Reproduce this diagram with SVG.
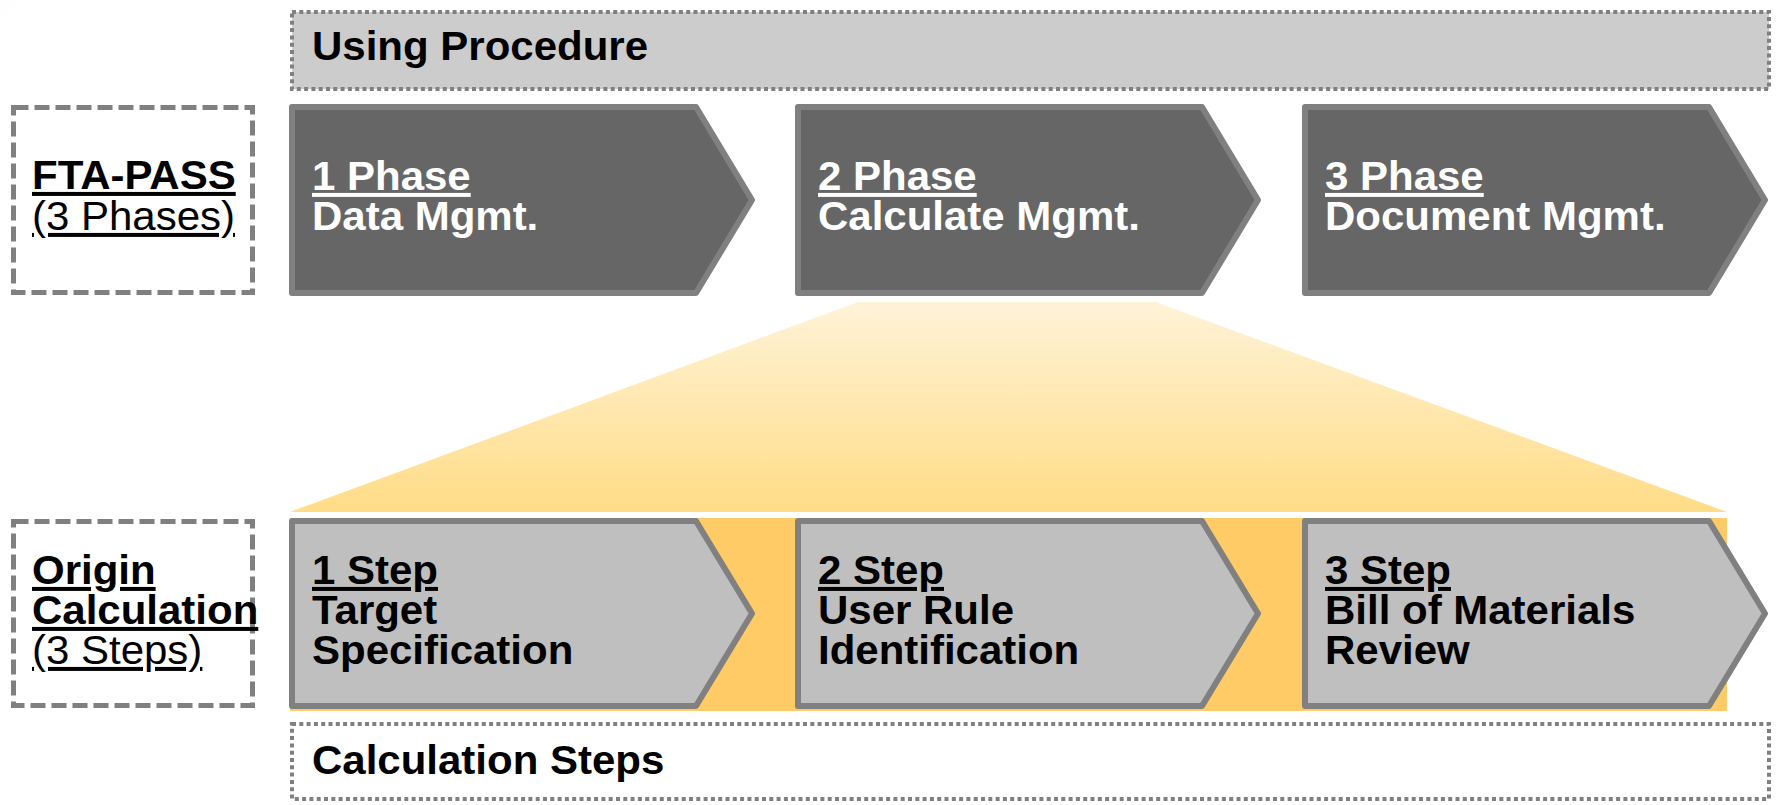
<svg xmlns="http://www.w3.org/2000/svg" width="1777" height="805" viewBox="0 0 1777 805">
<defs>
<linearGradient id="funnel" x1="0" y1="0" x2="0" y2="1">
<stop offset="0" stop-color="#fff3d8"/>
<stop offset="1" stop-color="#ffdc86"/>
</linearGradient>
<radialGradient id="glow" cx="0" cy="0" r="1">
<stop offset="0" stop-color="#e6ebfa"/>
<stop offset="1" stop-color="#ffffff" stop-opacity="0"/>
</radialGradient>
<style>
.t{font-family:"Liberation Sans",Arial,sans-serif;font-size:40px}
.b{font-weight:bold}
.u{text-decoration:underline}
.w{fill:#ffffff}
.k{fill:#000000}
.phase{fill:#666666;stroke:#808080;stroke-width:6;stroke-linejoin:round}
.step{fill:#bfbfbf;stroke:#808080;stroke-width:6;stroke-linejoin:round}
.dash{fill:#ffffff;stroke:#808080;stroke-width:5;stroke-dasharray:15 6}
.dot{stroke:#808080;stroke-width:4;stroke-dasharray:4 3.3}
</style>
</defs>
<rect width="1777" height="805" fill="#ffffff"/>
<ellipse cx="0" cy="0" rx="45" ry="75" fill="url(#glow)"/>

<g id="connectors">
<polygon points="858,302 1156,302 1727,512 290,512" fill="url(#funnel)"/>
<rect x="290" y="518" width="1437" height="193" fill="#fecb66"/>
</g>

<g id="using-procedure">
<rect class="dot" x="292" y="12" width="1477" height="77" fill="#cccccc"/>
<text class="t b k" transform="translate(312,60) scale(1.05,1)">Using Procedure</text>
</g>

<g id="fta-pass">
<rect class="dash" x="13.5" y="107.5" width="239" height="185"/>
<text class="t b u k" transform="translate(32,189) scale(1.05,1)">FTA-PASS</text>
<text class="t u k" transform="translate(32,230) scale(1.05,1)">(3 Phases)</text>
</g>

<g id="phase1">
<path class="phase" d="M292,107 H696 L752,200 L696,293 H292 Z"/>
<text class="t b u w" transform="translate(312,190) scale(1.05,1)">1 Phase</text>
<text class="t b w" transform="translate(312,230) scale(1.05,1)">Data Mgmt.</text>
</g>

<g id="phase2">
<path class="phase" d="M798,107 H1202 L1258,200 L1202,293 H798 Z"/>
<text class="t b u w" transform="translate(818,190) scale(1.05,1)">2 Phase</text>
<text class="t b w" transform="translate(818,230) scale(1.05,1)">Calculate Mgmt.</text>
</g>

<g id="phase3">
<path class="phase" d="M1305,107 H1709 L1765,200 L1709,293 H1305 Z"/>
<text class="t b u w" transform="translate(1325,190) scale(1.05,1)">3 Phase</text>
<text class="t b w" transform="translate(1325,230) scale(1.05,1)">Document Mgmt.</text>
</g>

<g id="origin-calculation">
<rect class="dash" x="13.5" y="521.5" width="239" height="184"/>
<text class="t b u k" transform="translate(32,584) scale(1.05,1)">Origin</text>
<text class="t b u k" transform="translate(32,624) scale(1.05,1)">Calculation</text>
<text class="t u k" transform="translate(32,664) scale(1.05,1)">(3 Steps)</text>
</g>

<g id="step1">
<path class="step" d="M292,521 H696 L752,613.5 L696,706 H292 Z"/>
<text class="t b u k" transform="translate(312,584) scale(1.05,1)">1 Step</text>
<text class="t b k" transform="translate(312,624) scale(1.05,1)">Target</text>
<text class="t b k" transform="translate(312,664) scale(1.05,1)">Specification</text>
</g>

<g id="step2">
<path class="step" d="M798,521 H1202 L1258,613.5 L1202,706 H798 Z"/>
<text class="t b u k" transform="translate(818,584) scale(1.05,1)">2 Step</text>
<text class="t b k" transform="translate(818,624) scale(1.05,1)">User Rule</text>
<text class="t b k" transform="translate(818,664) scale(1.05,1)">Identification</text>
</g>

<g id="step3">
<path class="step" d="M1305,521 H1709 L1765,613.5 L1709,706 H1305 Z"/>
<text class="t b u k" transform="translate(1325,584) scale(1.05,1)">3 Step</text>
<text class="t b k" transform="translate(1325,624) scale(1.05,1)">Bill of Materials</text>
<text class="t b k" transform="translate(1325,664) scale(1.05,1)">Review</text>
</g>

<g id="calculation-steps">
<rect class="dot" x="292" y="724" width="1477" height="75" fill="#ffffff"/>
<text class="t b k" transform="translate(312,774) scale(1.05,1)">Calculation Steps</text>
</g>
</svg>
